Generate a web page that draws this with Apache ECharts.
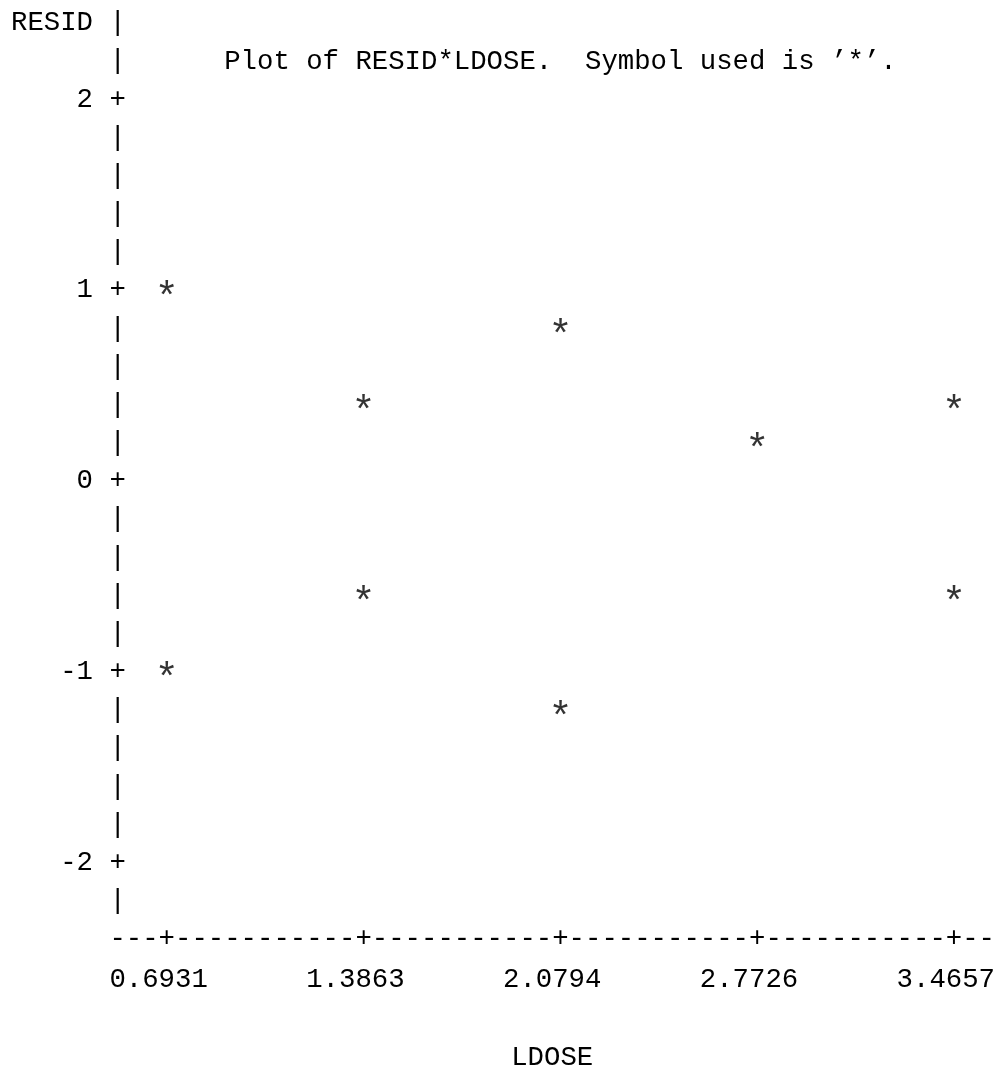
<!DOCTYPE html>
<html>
<head>
<meta charset="utf-8">
<title>Plot of RESID*LDOSE</title>
<script src="https://cdn.jsdelivr.net/npm/echarts@6/dist/echarts.min.js"></script>
<style>
    html, body { margin: 0; padding: 0; background: #fff; }
    #main { width: 1001px; height: 1076px; }
</style>
</head>
<body>
<div id="main"></div>
<script>
// values
var ldose = [0.6931, 0.6931, 1.3863, 1.3863, 2.0794, 2.0794, 2.7726, 3.4657, 3.4657];
var resid = [1.0, -1.0, 0.4, -0.6, 0.8, -1.2, 0.2, 0.4, -0.6];
var xTicks = [0.6931, 1.3863, 2.0794, 2.7726, 3.4657];
var yTicks = [-2, -1, 0, 1, 2];

// character grid of the printout
var CW = 16.4;      // column width
var RH = 38.5;      // row height
var X0 = 19.2;      // centre of column 0
var Y0 = 23;        // centre of row 0
var FS = 27.33;     // mono font size giving CW advance
var MONO = '"Liberation Mono", "DejaVu Sans Mono", monospace';

// one printer column in data units (12 columns between ticks)
var colStep = (xTicks[xTicks.length - 1] - xTicks[0]) / 48;
var xMin = xTicks[0] - 3 * colStep;
var xMax = xTicks[xTicks.length - 1] + 2 * colStep;
var dashCols = [];
for (var i = 0; i <= 53; i++) dashCols.push(xMin + i * colStep);

var chart = echarts.init(document.getElementById('main'));

chart.setOption({
    backgroundColor: '#fff',
    animation: false,
    title: {
        text: 'Plot of RESID*LDOSE.  Symbol used is \u2019*\u2019.',
        left: X0 + 13 * CW - CW / 2,
        top: Y0 + RH - RH / 2,
        padding: 0,
        textStyle: { fontFamily: MONO, fontSize: FS, color: '#000', fontWeight: 'normal', lineHeight: RH }
    },
    grid: {
        left: X0 + 6 * CW,
        right: 1001 - (X0 + 59 * CW),
        top: Y0,
        bottom: 1076 - (Y0 + 24 * RH)
    },
    xAxis: [{
        type: 'value',
        min: xMin,
        max: xMax,
        position: 'bottom',
        axisLine: { show: false, onZero: false },
        axisTick: { show: false },
        splitLine: { show: false },
        axisLabel: {
            customValues: dashCols,
            margin: 0,
            verticalAlign: 'middle',
            fontFamily: MONO, fontSize: FS, color: '#000',
            showMinLabel: true, showMaxLabel: true,
            formatter: function (v) {
                var k = Math.round((v - xMin) / colStep);
                return (k - 3) % 12 === 0 ? '+' : '-';
            }
        }
    }, {
        type: 'value',
        min: xMin,
        max: xMax,
        position: 'bottom',
        offset: RH,
        name: 'LDOSE',
        nameLocation: 'middle',
        nameGap: 2 * RH + 3,
        nameTextStyle: { fontFamily: MONO, fontSize: FS, color: '#000', verticalAlign: 'middle' },
        axisLine: { show: false, onZero: false },
        axisTick: { show: false },
        splitLine: { show: false },
        axisLabel: {
            customValues: xTicks,
            margin: 2,
            verticalAlign: 'middle',
            padding: [0, CW, 0, 0],
            fontFamily: MONO, fontSize: FS, color: '#000',
            formatter: function (v) { return v.toFixed(4); }
        }
    }],
    yAxis: {
        type: 'value',
        min: -2.4,
        max: 2.4,
        interval: 0.2,
        axisLine: { show: false, onZero: false },
        axisTick: { show: false },
        splitLine: { show: false },
        axisLabel: {
            margin: -CW / 2,
            fontFamily: MONO, fontSize: FS, color: '#000',
            formatter: function (v) {
                var k = Math.round(v * 5);
                if (k === 12) return 'RESID |';
                if (k === -12) return '';
                if (k % 5 === 0 && yTicks.indexOf(k / 5) >= 0) return (k / 5) + ' +';
                return '|';
            }
        }
    },
    series: [{
        type: 'scatter',
        xAxisIndex: 0,
        symbolSize: 1,
        itemStyle: { color: 'rgba(0,0,0,0)' },
        label: {
            show: true,
            position: 'inside',
            formatter: '*',
            fontFamily: MONO, fontSize: 40, color: '#000',
            offset: [0, 9]
        },
        data: ldose.map(function (x, i) { return [x, resid[i]]; })
    }]
});
</script>
</body>
</html>
